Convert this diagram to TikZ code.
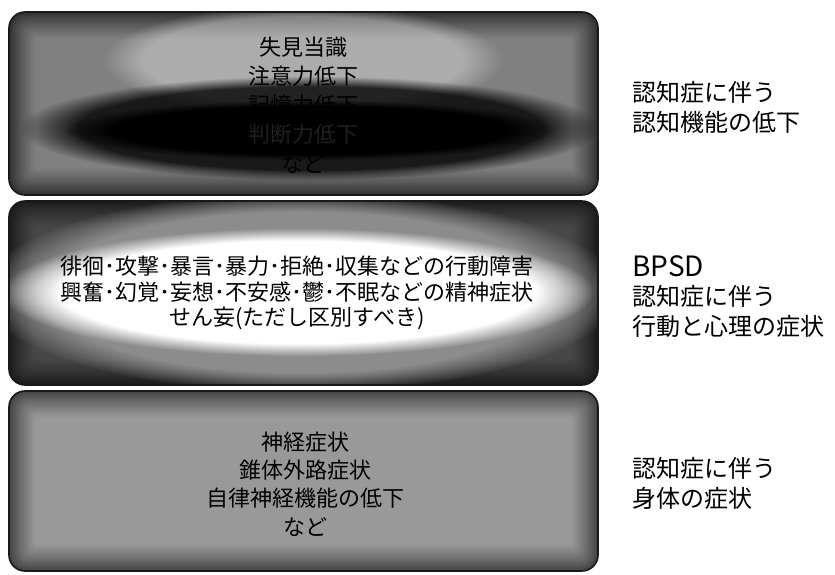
\documentclass[tikz,border=0pt]{standalone}
\usepackage{fontspec}
\setmainfont{Noto Sans CJK JP}
\usetikzlibrary{fadings}
\tikzset{
  panel/.style={rounded corners=16pt, draw=black!90, line width=1.6pt},
  boxtext/.style={align=center, font=\fontsize{22}{29}\selectfont, text=black, inner sep=0pt},
  sidetext/.style={align=left, anchor=west, font=\fontsize{24}{30}\selectfont, text=black, inner sep=0pt},
}
% graded fill: #1 x0, #2 y0, #3 x1, #4 y1, #5 edge darkness, #6 inner darkness
\newcommand{\gradepanel}[6]{%
  \foreach \i in {0,...,24}{%
    \pgfmathsetmacro{\dk}{#5+(#6-#5)*(\i/24)^0.8}%
    \pgfmathsetmacro{\rc}{max(16-0.6*\i,3)}%
    \fill[black!\dk, rounded corners=\rc pt] (#1+1.1*\i,#2+1.1*\i) rectangle (#3-1.1*\i,#4-1.1*\i);
  }%
}
\begin{document}
\begin{tikzpicture}[x=1pt,y=-1pt]
\useasboundingbox (0,0) rectangle (835,574);
\fill[white] (0,0) rectangle (835,574);

% ---------- panel 1 ----------
\begin{scope}
\clip[rounded corners=16pt] (9,12) rectangle (598,195);
\gradepanel{9}{12}{598}{195}{82}{50}
\fill[white, opacity=0.35, path fading=circle with fuzzy edge 20 percent] (303,60) ellipse [x radius=200, y radius=55];
\fill[black, opacity=0.8, path fading=circle with fuzzy edge 20 percent] (310,128) ellipse [x radius=290, y radius=52];
\fill[black, path fading=circle with fuzzy edge 20 percent] (310,130) ellipse [x radius=245, y radius=30];
\end{scope}
\draw[panel] (9,12) rectangle (598,195);
\node[boxtext] (p1a) at (303,47) {失見当識};
\node[boxtext] (p1b) at (303,76) {注意力低下};
\node[boxtext] (p1c) at (303,105) {記憶力低下};
\node[boxtext, text=black!88] (p1d) at (303,134) {判断力低下};
\node[boxtext] (p1e) at (303,164) {など};

% ---------- panel 2 ----------
\begin{scope}
\clip[rounded corners=16pt] (9,201) rectangle (598,385);
\gradepanel{9}{201}{598}{385}{90}{72}
\fill[black!45, path fading=circle with fuzzy edge 20 percent] (300,292) ellipse [x radius=320, y radius=100];
\fill[white, path fading=circle with fuzzy edge 20 percent] (298,292) ellipse [x radius=295, y radius=64];
\fill[white, path fading=circle with fuzzy edge 20 percent] (298,294) ellipse [x radius=250, y radius=52];
\end{scope}
\draw[panel] (9,201) rectangle (598,385);
\node[boxtext] (p2a) at (297,266) {徘徊･攻撃･暴言･暴力･拒絶･収集などの行動障害};
\node[boxtext] (p2b) at (297,292) {興奮･幻覚･妄想･不安感･鬱･不眠などの精神症状};
\node[boxtext] (p2c) at (297,318) {せん妄(ただし区別すべき)};

% ---------- panel 3 ----------
\begin{scope}
\clip[rounded corners=16pt] (9,391) rectangle (598,571);
\gradepanel{9}{391}{598}{571}{75}{40}
\end{scope}
\draw[panel] (9,391) rectangle (598,571);
\node[boxtext] (p3a) at (305,442) {神経症状};
\node[boxtext] (p3b) at (305,470) {錐体外路症状};
\node[boxtext] (p3c) at (305,498) {自律神経機能の低下};
\node[boxtext] (p3d) at (305,527) {など};

% ---------- side labels ----------
\node[sidetext] (s1) at (632,107) {認知症に伴う\\認知機能の低下};
\node[sidetext, font=\fontsize{28}{28}\selectfont] (s2a) at (632,266) {BPSD};
\node[sidetext] (s2b) at (632,311) {認知症に伴う\\行動と心理の症状};
\node[sidetext] (s3) at (632,483) {認知症に伴う\\身体の症状};
\end{tikzpicture}
\end{document}
